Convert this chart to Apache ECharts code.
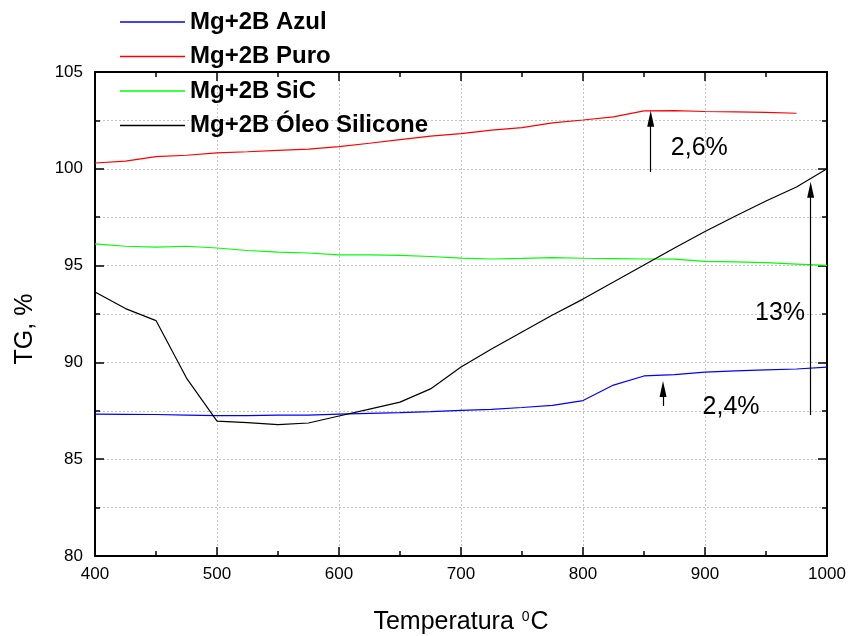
<!DOCTYPE html>
<html>
<head>
<meta charset="utf-8">
<script src="https://cdn.jsdelivr.net/npm/echarts@6/dist/echarts.min.js"></script>
<style>html,body{margin:0;padding:0;background:#fff}#c{width:851px;height:636px}</style>
</head>
<body>
<div id="c"></div>
<script>
const temps = [400,425,450,475,500,525,550,575,600,625,650,675,700,725,750,775,800,825,850,875,900,925,950,975,1000];
const azul  = [87.33,87.32,87.31,87.28,87.25,87.25,87.28,87.28,87.33,87.37,87.41,87.46,87.52,87.57,87.67,87.78,88.03,88.83,89.30,89.37,89.50,89.56,89.61,89.66,89.76];
const puro  = [100.30,100.40,100.63,100.70,100.82,100.88,100.95,101.02,101.15,101.32,101.51,101.69,101.82,102.00,102.13,102.37,102.52,102.68,102.99,103.00,102.96,102.94,102.91,102.87,null];
const sic   = [96.12,96.00,95.95,96.00,95.91,95.78,95.70,95.65,95.55,95.55,95.53,95.47,95.39,95.34,95.37,95.41,95.38,95.36,95.34,95.33,95.22,95.19,95.15,95.08,95.01];
const oleo  = [93.64,92.78,92.16,89.19,86.97,86.89,86.79,86.87,87.23,87.59,87.95,88.63,89.76,90.69,91.57,92.45,93.27,94.15,95.03,95.91,96.76,97.56,98.34,99.06,100.00];
const seriesNames = ['Mg+2B Azul','Mg+2B Puro','Mg+2B SiC','Mg+2B Óleo Silicone'];
const seriesColors = ['#0000ff','#ff0000','#00ff00','#000000'];
const xTicks = [400,500,600,700,800,900,1000];
const yTicks = [80,85,90,95,100,105];
// annotations (data coordinates)
const arrowX    = [855.5, 986.6, 865.6];
const arrowFrom = [99.83, 87.28, 87.75];
const arrowTo   = [102.99, 99.33, 89.04];
const noteText  = ['2,6%','13%','2,4%'];
const noteX     = [872, 941, 898];
const noteY     = [101.07, 92.55, 87.70];

const FONT = 'Liberation Sans, Arial, Helvetica, sans-serif';
const allData = [azul, puro, sic, oleo];

const chart = echarts.init(document.getElementById('c'), null, {renderer:'canvas'});

const gridLine = {show:true, lineStyle:{color:'#c4c4c4', width:1, type:[2,2]}};

const lineSeries = allData.map((arr, i) => ({
  name: seriesNames[i],
  type: 'line',
  data: temps.map((t, j) => [t, arr[j]]),
  symbol: 'none',
  connectNulls: false,
  lineStyle: {color: seriesColors[i], width: 1.2},
  itemStyle: {color: seriesColors[i]},
  emphasis: {disabled: true},
  z: 3
}));

const arrowHead = 0.41;
lineSeries.push({
  name: 'arrows',
  type: 'line',
  data: [],
  symbol: 'none',
  markLine: {
    silent: true,
    symbol: ['none', 'triangle'],
    label: {show: false},
    lineStyle: {color: '#000', width: 1.2, type: 'solid'},
    emphasis: {disabled: true},
    data: arrowX.map((x, i) => [
      {coord: [x, arrowFrom[i]], symbol: 'none'},
      {coord: [x, arrowTo[i] - arrowHead], symbol: 'triangle', symbolSize: [7, 16]}
    ])
  },
  z: 4
});
lineSeries.push({
  name: 'notes',
  type: 'scatter',
  symbolSize: 0,
  itemStyle: {opacity: 1, color: '#000'},
  data: noteText.map((t, i) => ({value: [noteX[i], noteY[i]], name: t})),
  label: {show: true, position: 'right', distance: 0, formatter: p => p.name,
          fontFamily: FONT, fontSize: 25, color: '#000', opacity: 1, textBorderWidth: 0},
  emphasis: {disabled: true},
  silent: true,
  z: 5
});

chart.setOption({
  animation: false,
  backgroundColor: '#fff',
  textStyle: {fontFamily: FONT},
  grid: {left: 95, right: 24, top: 72, bottom: 80, containLabel: false, outerBoundsMode: 'none'},
  legend: {
    data: seriesNames,
    orient: 'vertical',
    left: 120,
    top: 10,
    padding: 0,
    icon: 'rect',
    itemWidth: 65,
    itemHeight: 1.3,
    itemGap: 10.5,
    selectedMode: false,
    textStyle: {fontFamily: FONT, fontWeight: 'bold', fontSize: 24, color: '#000', lineHeight: 24}
  },
  xAxis: [{
    type: 'value', min: 400, max: 1000, interval: 100,
    position: 'bottom',
    name: '{a|Temperatura }{s|0}{a|C}',
    nameLocation: 'middle', nameGap: 54,
    nameTextStyle: {rich: {
      a: {fontFamily: FONT, fontSize: 25, color: '#000'},
      s: {fontFamily: FONT, fontSize: 14, color: '#000', padding: [0,1,11,1]}
    }},
    axisLine: {show: true, onZero: false, lineStyle: {color: '#000', width: 2}},
    axisTick: {show: true, inside: true, length: 9, lineStyle: {color: '#000', width: 1.5}},
    minorTick: {show: true, splitNumber: 2, length: 5, lineStyle: {color: '#000', width: 1.5}},
    axisLabel: {show: true, margin: 10, fontSize: 17, color: '#000', fontFamily: FONT,
                customValues: xTicks, formatter: v => String(v)},
    splitLine: gridLine,
    minorSplitLine: {show: false}
  }, {
    type: 'value', min: 400, max: 1000, interval: 100,
    position: 'top',
    axisLine: {show: true, onZero: false, lineStyle: {color: '#000', width: 2}},
    axisTick: {show: true, inside: true, length: 9, lineStyle: {color: '#000', width: 1.5}},
    minorTick: {show: true, splitNumber: 2, length: 5, lineStyle: {color: '#000', width: 1.5}},
    axisLabel: {show: false},
    splitLine: {show: false}
  }],
  yAxis: [{
    type: 'value', min: 80, max: 105, interval: 5,
    position: 'left',
    name: 'TG, %',
    nameLocation: 'middle', nameGap: 57,
    nameTextStyle: {fontFamily: FONT, fontSize: 25, color: '#000', padding: [0, 30, 0, 0]},
    axisLine: {show: true, onZero: false, lineStyle: {color: '#000', width: 2}},
    axisTick: {show: true, inside: true, length: 9, lineStyle: {color: '#000', width: 1.5}},
    minorTick: {show: true, splitNumber: 2, length: 5, lineStyle: {color: '#000', width: 1.5}},
    axisLabel: {show: true, margin: 12, fontSize: 17, color: '#000', fontFamily: FONT,
                customValues: yTicks, formatter: v => String(v)},
    splitLine: gridLine,
    minorSplitLine: gridLine
  }, {
    type: 'value', min: 80, max: 105, interval: 5,
    position: 'right',
    axisLine: {show: true, onZero: false, lineStyle: {color: '#000', width: 2}},
    axisTick: {show: true, inside: true, length: 9, lineStyle: {color: '#000', width: 1.5}},
    minorTick: {show: true, splitNumber: 2, length: 5, lineStyle: {color: '#000', width: 1.5}},
    axisLabel: {show: false},
    splitLine: {show: false}
  }],
  series: lineSeries
});
</script>
</body>
</html>
